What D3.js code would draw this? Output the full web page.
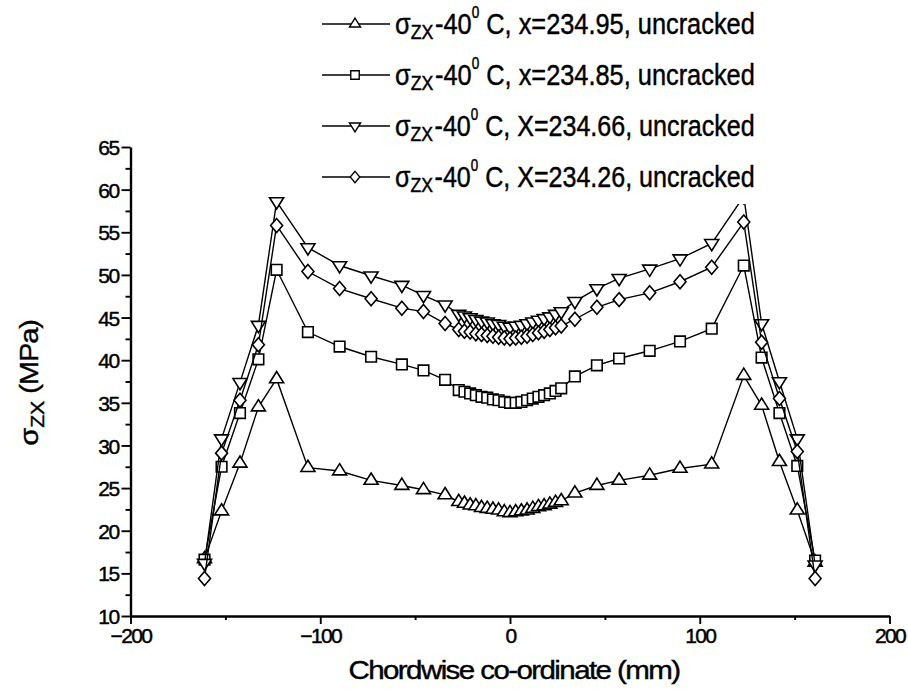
<!DOCTYPE html>
<html><head><meta charset="utf-8">
<script src="https://cdn.jsdelivr.net/npm/d3@7/dist/d3.min.js"></script>
<style>
body{margin:0;background:#fff}
svg{display:block}
text{font-family:"Liberation Sans",Arial,sans-serif;fill:#000}
</style>
</head><body>
<svg id="c" width="908" height="692"></svg>
<script>
// ---------- data ----------
const chordX = [-161, -152, -142.3, -132.6, -123, -106.5, -89.8, -73.2, -57, -45.6, -34.2,
  -27, -24, -21, -18, -15, -12, -9, -6, -3, 0, 3, 6, 9, 12, 15, 18, 21, 24, 27,
  34.2, 45.8, 57.5, 73.6, 89.6, 106.3, 123.2, 132.6, 142, 151.4, 160.8];

const s1 = [16.7, 22.3, 27.9, 34.5, 37.8, 27.4, 27.0, 25.9, 25.3, 24.8, 24.2,
  23.4, 23.2, 23.0, 22.9, 22.7, 22.6, 22.5, 22.4, 22.2, 22.1, 22.2, 22.3, 22.4, 22.6, 22.8, 22.9, 23.1, 23.3, 23.5,
  24.4, 25.3, 25.9, 26.5, 27.3, 27.8, 38.2, 34.7, 28.1, 22.4, 16.3];
const s2 = [16.6, 27.5, 33.8, 40.1, 50.6, 43.3, 41.6, 40.4, 39.5, 38.8, 37.7,
  36.5, 36.3, 36.1, 35.9, 35.7, 35.6, 35.4, 35.3, 35.1, 35.0, 35.0, 35.1, 35.3, 35.5, 35.7, 35.9, 36.1, 36.4, 36.7,
  38.1, 39.4, 40.2, 41.1, 42.2, 43.7, 51.1, 40.3, 33.8, 27.6, 16.5];
const s3 = [16.2, 30.8, 37.4, 44.1, 58.6, 53.2, 51.1, 49.9, 48.8, 47.6, 46.5,
  45.4, 45.2, 45.0, 44.8, 44.6, 44.5, 44.3, 44.2, 44.0, 43.9, 44.0, 44.1, 44.3, 44.5, 44.7, 44.9, 45.1, 45.4, 45.7,
  46.9, 48.4, 49.6, 50.7, 51.9, 53.7, 59.2, 44.3, 37.5, 30.8, 16.0];
const s4 = [14.4, 29.1, 35.3, 41.8, 55.8, 50.4, 48.4, 47.2, 46.1, 45.7, 44.3,
  43.6, 43.4, 43.3, 43.1, 43.0, 42.9, 42.8, 42.7, 42.6, 42.5, 42.6, 42.7, 42.8, 43.0, 43.2, 43.4, 43.6, 43.8, 44.0,
  44.8, 46.2, 47.1, 47.9, 49.2, 50.9, 56.2, 42.1, 35.5, 29.3, 14.4];

const seriesVals = [s1, s2, s3, s4];
const seriesPos = ["x=234.95", "x=234.85", "X=234.66", "X=234.26"];
const seriesMarker = ["triUp", "square", "triDown", "diamond"];

const xMajor = [-200, -100, 0, 100, 200];
const xMinor = [-150, -50, 50, 150];
const yMajor = [10, 15, 20, 25, 30, 35, 40, 45, 50, 55, 60, 65];
const yMinor = [12.5, 17.5, 22.5, 27.5, 32.5, 37.5, 42.5, 47.5, 52.5, 57.5, 62.5];

// ---------- drawing ----------
const svg = d3.select("#c");
const x = d3.scaleLinear().domain([-200, 200]).range([130.5, 889.5]);
const y = d3.scaleLinear().domain([10, 65]).range([616, 147]);

const shapes = {
  triUp: "M0,-7.4L7,3.8L-7,3.8Z",
  triDown: "M0,7.4L7,-3.8L-7,-3.8Z",
  square: "M-5.3,-5.3H5.3V5.3H-5.3Z",
  diamond: "M0,-7L6,0L0,7L-6,0Z"
};

const line = d3.line().x(d => x(d[0])).y(d => y(d[1]));
seriesVals.forEach((vals, i) => {
  const pts = chordX.map((cx, k) => [cx, vals[k]]);
  const g = svg.append("g");
  g.append("path").attr("d", line(pts)).attr("fill", "none")
    .attr("stroke", "#000").attr("stroke-width", 1.4);
  g.selectAll("path.m").data(pts).join("path").attr("class", "m")
    .attr("d", shapes[seriesMarker[i]])
    .attr("transform", d => `translate(${x(d[0])},${y(d[1])})`)
    .attr("fill", "#fff").attr("stroke", "#000").attr("stroke-width", 1.6);
});

// axes
const axFont = 21;
const gx = svg.append("g").attr("transform", `translate(0,${y(10)})`)
  .call(d3.axisBottom(x).tickValues(xMajor).tickSize(8).tickSizeOuter(0).tickPadding(4).tickFormat(d3.format("d")));
svg.append("g").attr("transform", `translate(0,${y(10)})`)
  .call(d3.axisBottom(x).tickValues(xMinor).tickSize(4).tickSizeOuter(0).tickFormat(""))
  .select(".domain").remove();
const gy = svg.append("g").attr("transform", `translate(${x(-200)},0)`)
  .call(d3.axisLeft(y).tickValues(yMajor).tickSize(9).tickSizeOuter(0).tickPadding(3).tickFormat(d3.format("d")));
svg.append("g").attr("transform", `translate(${x(-200)},0)`)
  .call(d3.axisLeft(y).tickValues(yMinor).tickSize(5).tickSizeOuter(0).tickFormat(""))
  .select(".domain").remove();
svg.selectAll(".domain").attr("stroke", "#000").attr("stroke-width", 2.4);
svg.selectAll(".tick line").attr("stroke", "#000").attr("stroke-width", 1.9);
svg.selectAll(".tick text").attr("font-size", axFont).attr("font-family", '"Liberation Sans",Arial,sans-serif')
  .attr("letter-spacing", "-1.6px").attr("fill", "#000").attr("stroke", "#000").attr("stroke-width", 0.45);
gy.selectAll(".tick text").attr("dy", "0.36em");

// axis titles
const xt = svg.append("text").attr("font-size", 26).attr("letter-spacing", "-1.4px")
  .attr("stroke", "#000").attr("stroke-width", 0.4)
  .attr("text-anchor", "middle").text("Chordwise co-ordinate (mm)");
{
  const w = xt.node().getBBox().width; const s = 332 / w;
  xt.attr("transform", `translate(514,679) scale(${s},1)`);
}
const yt = svg.append("text").attr("font-size", 26).attr("text-anchor", "middle")
  .attr("stroke", "#000").attr("stroke-width", 0.4);
yt.append("tspan").text("σ");
yt.append("tspan").attr("font-size", 19).attr("dy", 6).text("ZX");
yt.append("tspan").attr("dy", -6).attr("letter-spacing", "-1px").text(" (MPa)");
{
  const w = yt.node().getBBox().width; const s = 126 / w;
  yt.attr("transform", `translate(38,383) rotate(-90) scale(${s},1)`);
}

// legend (white box covers data beneath, as in reference)
const leg = svg.append("g");
leg.append("rect").attr("x", 316).attr("y", 0).attr("width", 450).attr("height", 204).attr("fill", "#fff");
seriesVals.forEach((vals, i) => {
  const ly = 24 + i * 51;
  leg.append("line").attr("x1", 322).attr("x2", 390).attr("y1", ly).attr("y2", ly)
    .attr("stroke", "#000").attr("stroke-width", 1.4);
  leg.append("path").attr("d", shapes[seriesMarker[i]]).attr("transform", `translate(355,${ly}) scale(0.8)`)
    .attr("fill", "#fff").attr("stroke", "#000").attr("stroke-width", 1.7);
  const t = leg.append("text").attr("font-size", 30).attr("stroke", "#000").attr("stroke-width", 0.45);
  t.append("tspan").text("σ");
  t.append("tspan").attr("font-size", 21).attr("dy", 5).text("ZX");
  t.append("tspan").attr("dy", -5).attr("dx", 2).text("-40");
  t.append("tspan").attr("font-size", 16).attr("dy", -16).text("0");
  t.append("tspan").attr("dy", 16).text(` C, ${seriesPos[i]}, uncracked`);
  const w = t.node().getBBox().width; const s = 360 / w;
  t.attr("transform", `translate(395,${ly + 10}) scale(${s},1)`);
});
</script>
</body></html>
